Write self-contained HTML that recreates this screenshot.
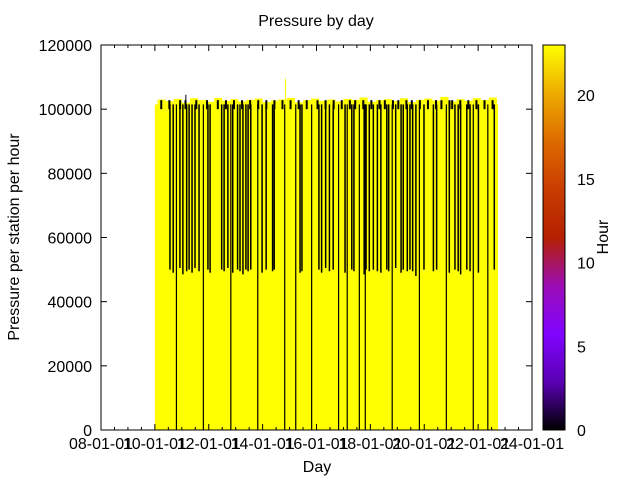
<!DOCTYPE html>
<html><head><meta charset="utf-8"><style>
html,body{margin:0;padding:0;background:#fff;}
svg{display:block;font-family:"Liberation Sans",sans-serif;}
</style></head><body>
<svg id="chart" width="640" height="480" viewBox="0 0 640 480">
<defs>
<linearGradient id="pal" x1="0" y1="1" x2="0" y2="0">
<stop offset="0" stop-color="#000000"/><stop offset="0.125" stop-color="#5a00b4"/>
<stop offset="0.25" stop-color="#8004ff"/><stop offset="0.375" stop-color="#9c0db4"/>
<stop offset="0.5" stop-color="#b42000"/><stop offset="0.625" stop-color="#c93d00"/>
<stop offset="0.75" stop-color="#dd6b00"/><stop offset="0.875" stop-color="#eeab00"/>
<stop offset="1" stop-color="#ffff00"/>
</linearGradient>
</defs>
<text x="316" y="26" text-anchor="middle" font-size="16">Pressure by day</text>
<g id="marks"></g>
<g id="axes"></g>
<rect x="101" y="45" width="431" height="385" fill="none" stroke="#000"/>
<rect x="543" y="45" width="22" height="385" fill="url(#pal)" stroke="#000"/>
<text x="317" y="472" text-anchor="middle" font-size="16">Day</text>
<text transform="translate(19,237) rotate(-90)" text-anchor="middle" font-size="16">Pressure per station per hour</text>
<text transform="translate(608,237) rotate(-90)" text-anchor="middle" font-size="16">Hour</text>
</svg>
<script>
const xTickYears = [2008,2010,2012,2014,2016,2018,2020,2022,2024];
const xTickLabels = ["08-01-01","10-01-01","12-01-01","14-01-01","16-01-01","18-01-01","20-01-01","22-01-01","24-01-01"];
const yTicks = [0,20000,40000,60000,80000,100000,120000];
const cbTicks = [0,5,10,15,20];
const dataStart = 2010.0;
const dataEnd = 2022.74;
const dataTop = 101500;
const fullDrops = [2010.80,2011.80,2012.82,2013.82,2014.82,2015.23,2015.82,2016.82,2017.14,2017.59,2017.81,2018.81,2019.82,2020.82,2021.82,2022.36];
const halfDrops = [2010.56,2010.68,2010.93,2011.04,2011.18,2011.27,2011.38,2011.49,2011.64,2011.97,2012.05,2012.48,2012.57,2012.71,2012.89,2013.07,2013.16,2013.27,2013.38,2013.46,2013.56,2013.98,2014.13,2014.37,2014.43,2015.39,2015.46,2016.09,2016.19,2016.34,2016.48,2016.62,2017.06,2017.31,2017.39,2017.77,2017.84,2017.96,2018.11,2018.26,2018.39,2018.61,2018.68,2018.94,2019.14,2019.22,2019.37,2019.47,2019.57,2019.69,2019.99,2020.34,2020.46,2020.93,2021.14,2021.26,2021.35,2021.58,2021.70,2022.01,2022.60];
const halfLows = [50000,49000,50500,48500,49500,50000,49000,50500,49500,50000,49000,50000,49500,50500,49000,50000,49500,48500,50000,49500,50000,49000,50000,49500,50000,49000,49500,50000,49000,50500,49500,50000,49000,50000,49500,48500,50000,49500,50000,49500,49000,50000,49500,50500,49000,50000,49500,50000,49500,48000,50000,49500,50000,49000,50000,49500,48500,50000,49500,49000,50000];
const topYears = [2010.1,2010.4,2010.7,2011.0,2011.3,2011.6,2011.9,2012.2,2012.5,2012.8,2013.1,2013.4,2013.7,2014.0,2014.3,2014.6,2014.9,2015.2,2015.5,2015.8,2016.1,2016.4,2016.7,2017.0,2017.3,2017.6,2017.9,2018.2,2018.5,2018.8,2019.1,2019.4,2019.7,2020.0,2020.3,2020.6,2020.9,2021.2,2021.5,2021.8,2022.1,2022.4];
const topValues = [103000,102500,103200,102000,103400,102800,102300,103500,102600,103100,102400,102900,103300,102200,102700,103000,103500,102100,102800,103300,102600,103000,102400,103200,102900,103600,102300,102800,103100,102500,103400,102200,102900,103300,102700,103800,102400,103100,102600,103400,102800,103600];
const spikeYears = [2014.85,2011.15];
const spikeValues = [109500,104500];
const darkTops = [2010.2,2010.5,2010.9,2011.1,2011.5,2011.9,2012.3,2012.6,2012.9,2013.2,2013.5,2013.8,2014.1,2014.4,2014.7,2015.0,2015.3,2015.6,2016.0,2016.3,2016.6,2016.9,2017.2,2017.4,2017.7,2018.0,2018.3,2018.5,2018.8,2019.0,2019.3,2019.5,2019.8,2020.1,2020.4,2020.6,2020.9,2021.0,2021.3,2021.6,2021.9,2022.2,2022.5];

const NS="http://www.w3.org/2000/svg";
const X0=101,X1=532,Y0=430,Y1=45;
const xs=v=>X0+(v-2008)/16*(X1-X0);
const ys=v=>Y0-v/120000*(Y0-Y1);
const cs=v=>Y0-v/23*(Y0-Y1);
function mk(tag,attrs,parent){const e=document.createElementNS(NS,tag);for(const k in attrs)e.setAttribute(k,attrs[k]);parent.appendChild(e);return e;}
const marks=document.getElementById('marks'), axes=document.getElementById('axes');

let base=mk('rect',{x:xs(dataStart),y:ys(dataTop),width:xs(dataEnd)-xs(dataStart),height:Y0-ys(dataTop),fill:'#ffff00'},marks);


topYears.forEach((t,i)=>{
  const w=xs(Math.min(t+0.3,dataEnd))-xs(t);
  const r=mk('rect',{x:xs(t),y:ys(topValues[i]),width:w,height:ys(dataTop)-ys(topValues[i])+1,fill:'#ffff00'},marks);
  
  
});
spikeYears.forEach((t,i)=>{
  const l=mk('line',{x1:xs(t),x2:xs(t),y1:ys(spikeValues[i]),y2:ys(dataTop),stroke:i===0?'#ffff00':'#000','stroke-width':1},marks);
  
  
});
darkTops.forEach(t=>{
  const r=mk('rect',{x:xs(t),y:ys(102800),width:2,height:ys(100000)-ys(102800),fill:'#000'},marks);
  
  
});
halfDrops.forEach((t,i)=>{
  const l=mk('line',{x1:xs(t),x2:xs(t),y1:ys(101500),y2:ys(halfLows[i]),stroke:'#000','stroke-width':1.5},marks);
  
  
});
fullDrops.forEach(t=>{
  const l=mk('line',{x1:xs(t),x2:xs(t),y1:ys(101500),y2:Y0,stroke:'#000','stroke-width':1.2},marks);
  
  
});

xTickYears.forEach((v,i)=>{
  const x=xs(v);
  mk('line',{x1:x,x2:x,y1:Y0,y2:Y0-6,stroke:'#000'},axes);
  mk('line',{x1:x,x2:x,y1:Y1,y2:Y1+6,stroke:'#000'},axes);
  const t=mk('text',{x:x,y:Y0+19,'text-anchor':'middle','font-size':16},axes);
  t.textContent=xTickLabels[i];
  
  
});
for(let v=2008;v<2024;v+=0.5){ if(v%2===0)continue; const x=xs(v);
  mk('line',{x1:x,x2:x,y1:Y0,y2:Y0-3,stroke:'#000'},axes);
  mk('line',{x1:x,x2:x,y1:Y1,y2:Y1+3,stroke:'#000'},axes);}
yTicks.forEach(v=>{
  const y=ys(v);
  mk('line',{x1:X0,x2:X0+6,y1:y,y2:y,stroke:'#000'},axes);
  mk('line',{x1:X1,x2:X1-6,y1:y,y2:y,stroke:'#000'},axes);
  const t=mk('text',{x:92,y:y+6,'text-anchor':'end','font-size':16},axes);
  t.textContent=v;
  
  
});
cbTicks.forEach(v=>{
  const y=cs(v);
  mk('line',{x1:543,x2:548,y1:y,y2:y,stroke:'#000'},axes);
  mk('line',{x1:565,x2:560,y1:y,y2:y,stroke:'#000'},axes);
  const t=mk('text',{x:577,y:y+6,'font-size':16},axes);
  t.textContent=v;
  
  
});
</script>
</body></html>
